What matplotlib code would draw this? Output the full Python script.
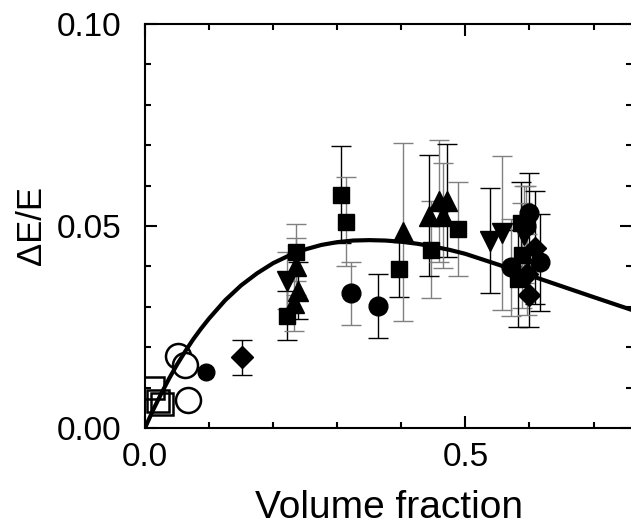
import matplotlib
matplotlib.use("Agg")
from matplotlib import pyplot as plt
from matplotlib.ticker import MultipleLocator

plt.rcParams['font.family'] = ['Liberation Sans', 'DejaVu Sans']

# fitted curve
curve_x = [0, 0.0125, 0.025, 0.0375, 0.05, 0.0625, 0.075, 0.0875, 0.1, 0.125,
           0.15, 0.175, 0.2, 0.225, 0.25, 0.275, 0.3, 0.325, 0.35, 0.375, 0.4,
           0.425, 0.45, 0.475, 0.5, 0.525, 0.55, 0.6, 0.65, 0.7, 0.76]
curve_y = [0, 0.0044, 0.0084, 0.0122, 0.0157, 0.0189, 0.0219, 0.0246, 0.0271,
           0.0316, 0.0353, 0.0383, 0.0408, 0.0427, 0.0442, 0.0453, 0.0460,
           0.0464, 0.0465, 0.0464, 0.0461, 0.0456, 0.0449, 0.0441, 0.0431,
           0.0418, 0.0405, 0.0378, 0.0351, 0.0324, 0.0292]

# filled squares
sq_x = [0.221, 0.236, 0.306, 0.314, 0.397, 0.446, 0.488, 0.586, 0.588, 0.582]
sq_y = [0.0278, 0.0435, 0.0577, 0.0511, 0.0393, 0.0441, 0.0492, 0.0508, 0.0428, 0.0370]
sq_e = [0.006, 0.007, 0.012, 0.011, 0.007, 0.012, 0.0116, 0.010, 0.013, 0.012]
sq_c = ['k', '0.5', 'k', '0.5', 'k', '0.5', '0.5', 'k', '0.5', 'k']

# filled up triangles
tu_x = [0.236, 0.238, 0.232, 0.403, 0.443, 0.459, 0.471, 0.465]
tu_y = [0.0400, 0.0340, 0.0310, 0.0485, 0.0525, 0.0562, 0.0562, 0.0525]
tu_e = [0.007, 0.007, 0.007, 0.022, 0.015, 0.015, 0.014, 0.013]
tu_c = ['0.5', 'k', '0.5', '0.5', 'k', '0.5', 'k', '0.5']

# filled down triangles
td_x = [0.222, 0.539, 0.557, 0.591]
td_y = [0.0365, 0.0464, 0.0483, 0.0478]
td_e = [0.007, 0.013, 0.019, 0.012]
td_c = ['0.5', 'k', '0.5', '0.5']

# filled circles
ci_x = [0.322, 0.363, 0.571, 0.599, 0.617, 0.595]
ci_y = [0.0333, 0.0302, 0.0398, 0.0532, 0.0410, 0.0500]
ci_e = [0.0078, 0.008, 0.012, 0.010, 0.012, 0.010]
ci_c = ['0.5', 'k', '0.5', 'k', 'k', '0.5']

# filled diamonds
di_x = [0.152, 0.599, 0.609, 0.596]
di_y = [0.0175, 0.0330, 0.0446, 0.0380]
di_e = [0.0044, 0.008, 0.014, 0.010]
di_c = ['k', 'k', 'k', '0.5']

# small filled circle without error bar
sc_x = [0.095]
sc_y = [0.0139]

# open symbols
oc_x = [0.051, 0.062, 0.067]
oc_y = [0.0178, 0.0156, 0.0069]
os_x = [0.012, 0.020, 0.026]
os_y = [0.0100, 0.0068, 0.0060]

fig = plt.figure(figsize=(6.31, 5.25), dpi=100)
ax = fig.add_axes([0.2298, 0.1848, 0.7718, 0.7695])


def draw(xs, ys, es, cs, marker, ms):
    for x, y, e, c in zip(xs, ys, es, cs):
        ax.errorbar(x, y, yerr=e, fmt='none', ecolor=c, elinewidth=1,
                    capsize=7, capthick=1, zorder=2)
    ax.plot(xs, ys, linestyle='none', marker=marker, ms=ms, color='k', zorder=3)


draw(sq_x, sq_y, sq_e, sq_c, 's', 12)
draw(tu_x, tu_y, tu_e, tu_c, '^', 14)
draw(td_x, td_y, td_e, td_c, 'v', 14)
draw(ci_x, ci_y, ci_e, ci_c, 'o', 13.5)
draw(di_x, di_y, di_e, di_c, 'D', 11)
ax.plot(sc_x, sc_y, linestyle='none', marker='o', ms=12, color='k', zorder=3)
ax.plot(oc_x, oc_y, linestyle='none', marker='o', ms=18, mfc='white',
        mec='k', mew=1.8, zorder=3)
ax.plot(os_x, os_y, linestyle='none', marker='s', ms=16, mfc='none',
        mec='k', mew=1.8, zorder=3)

ax.plot(curve_x, curve_y, color='k', lw=3, zorder=4, solid_joinstyle='round')

ax.set_xlim(0, 0.76)
ax.set_ylim(0, 0.10)
ax.xaxis.set_major_locator(MultipleLocator(0.5))
ax.xaxis.set_minor_locator(MultipleLocator(0.1))
ax.yaxis.set_major_locator(MultipleLocator(0.05))
ax.yaxis.set_minor_locator(MultipleLocator(0.01))
ax.xaxis.set_major_formatter(plt.FormatStrFormatter('%.1f'))
ax.yaxis.set_major_formatter(plt.FormatStrFormatter('%.2f'))

ax.tick_params(which='both', direction='in', top=True, right=True, width=1.5)
ax.tick_params(which='major', length=8.5, labelsize=24)
ax.tick_params(which='minor', length=4.5)
ax.tick_params(axis='x', pad=10)
ax.tick_params(axis='y', pad=17)
for s in ax.spines.values():
    s.set_linewidth(1.5)

ax.set_xlabel('Volume fraction', fontsize=28, labelpad=12)
ax.set_ylabel('ΔE/E', fontsize=25, labelpad=6)

fig.savefig('out.png', dpi=100)
